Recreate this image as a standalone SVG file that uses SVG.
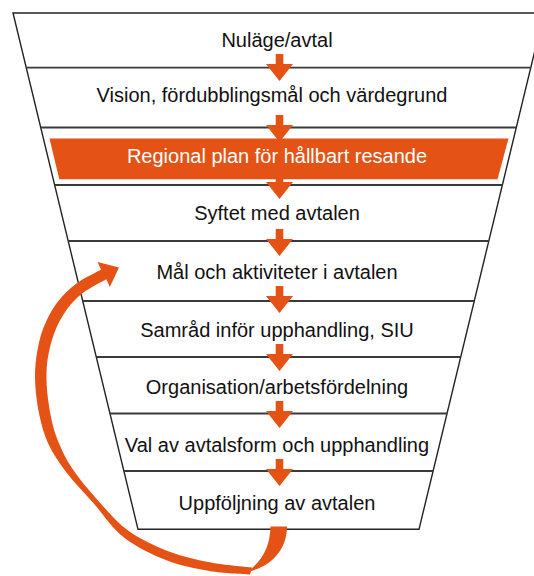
<svg xmlns="http://www.w3.org/2000/svg" width="534" height="576" viewBox="0 0 534 576">
<style>
.edge{fill:none;stroke:#222;stroke-width:1.4}
.div{fill:none;stroke:#3a3a3a;stroke-width:1.8}
.lbl{font-family:"Liberation Sans",Arial,sans-serif;font-size:20px;fill:#111;text-anchor:middle}
.lblw{font-family:"Liberation Sans",Arial,sans-serif;font-size:20px;fill:#fff;text-anchor:middle}
.or{fill:#E55216}
</style>
<defs>
<path id="dn" d="M-3.8,0 H3.8 V10 H13.5 L0,27 L-13.5,10 H-3.8 Z"/>
</defs>
<rect width="534" height="576" fill="#fff"/>
<g id="funnel">
<polygon class="edge" points="13,13 544,13 419,529.3 138,529.3"/>
</g>
<g id="n1"><text class="lbl" x="277" y="47">Nuläge/avtal</text></g>
<g id="n2"><line class="div" x1="26.2" y1="67.7" x2="530.8" y2="67.7"/><text class="lbl" x="272" y="102">Vision, fördubblingsmål och värdegrund</text></g>
<g id="n3"><line class="div" x1="40.7" y1="127.5" x2="516.3" y2="127.5"/><polygon class="or" points="49.5,138.5 508.5,138.5 497.5,179.3 59.3,179.3"/><text class="lblw" x="277" y="163">Regional plan för hållbart resande</text></g>
<g id="n4"><line class="div" x1="54.7" y1="185" x2="502.3" y2="185"/><text class="lbl" x="277" y="220">Syftet med avtalen</text></g>
<g id="n5"><line class="div" x1="68.2" y1="241" x2="488.8" y2="241"/><text class="lbl" x="277" y="279">Mål och aktiviteter i avtalen</text></g>
<g id="n6"><line class="div" x1="82.8" y1="301" x2="474.2" y2="301"/><text class="lbl" x="277" y="337">Samråd inför upphandling, SIU</text></g>
<g id="n7"><line class="div" x1="96.3" y1="357" x2="460.7" y2="357"/><text class="lbl" x="277" y="394">Organisation/arbetsfördelning</text></g>
<g id="n8"><line class="div" x1="110" y1="413.5" x2="447" y2="413.5"/><text class="lbl" x="277" y="452">Val av avtalsform och upphandling</text></g>
<g id="n9"><line class="div" x1="123.9" y1="471" x2="433.1" y2="471"/><text class="lbl" x="277" y="510">Uppföljning av avtalen</text></g>
<g id="connectors" class="or">
<use href="#dn" x="279.5" y="54"/>
<use href="#dn" x="279.5" y="115"/>
<use href="#dn" x="279.5" y="172"/>
<use href="#dn" x="279.5" y="229"/>
<use href="#dn" x="279.5" y="286"/>
<use href="#dn" x="279.5" y="344"/>
<use href="#dn" x="279.5" y="401"/>
<use href="#dn" x="279.5" y="459"/>
<path d="M270.5,526.5 C270,546 263,560 248,571.5 C268,568 287,552 287,526.5 Z"/>
<path d="M101,269.7 C96.9,272 83.8,278 76.5,283.4 C69.2,288.9 62.7,295 57.2,302.4 C51.7,309.8 46.9,318.7 43.4,327.8 C39.9,336.9 37.7,347.6 36.3,357.2 C35,366.8 34.75,375.5 35.3,385.3 C35.850,395.1 37.4,406.3 39.6,416.1 C41.8,425.9 44,434.7 48.4,444 C52.8,453.3 58.65,462.2 66.1,472 C73.55,481.8 83.5,491.8 93.1,502.7 C102.7,513.6 111.4,527.6 123.6,537.2 C135.8,546.8 152.1,554.6 166.4,560.2 C180.7,565.8 195.4,568.5 209.3,570.9 C223.2,573.3 243.2,573.9 250,574.5 L252,567.5 C245.1,566.7 224.4,565.1 210.7,562.5 C197,559.9 183.3,557.1 169.6,551.8 C155.9,546.5 140.5,539.6 128.4,530.8 C116.3,522.05 106.3,509.8 96.9,499.3 C87.5,488.8 78.45,477.9 71.9,468 C65.35,458.1 61.2,449 57.6,440 C54,431 52.2,423.1 50.4,413.9 C48.6,404.7 47.15,393.9 46.7,384.7 C46.25,375.5 46.4,367.55 47.7,358.8 C49,350.05 51.4,340.4 54.6,332.2 C57.8,324 62,316.2 66.8,309.6 C71.6,303 76.9,297.65 83.5,292.6 C90.1,287.55 102.6,281.5 106.4,279.3 L109.8,287 L119,267.5 L97.6,262 Z"/>
</g>
</svg>
